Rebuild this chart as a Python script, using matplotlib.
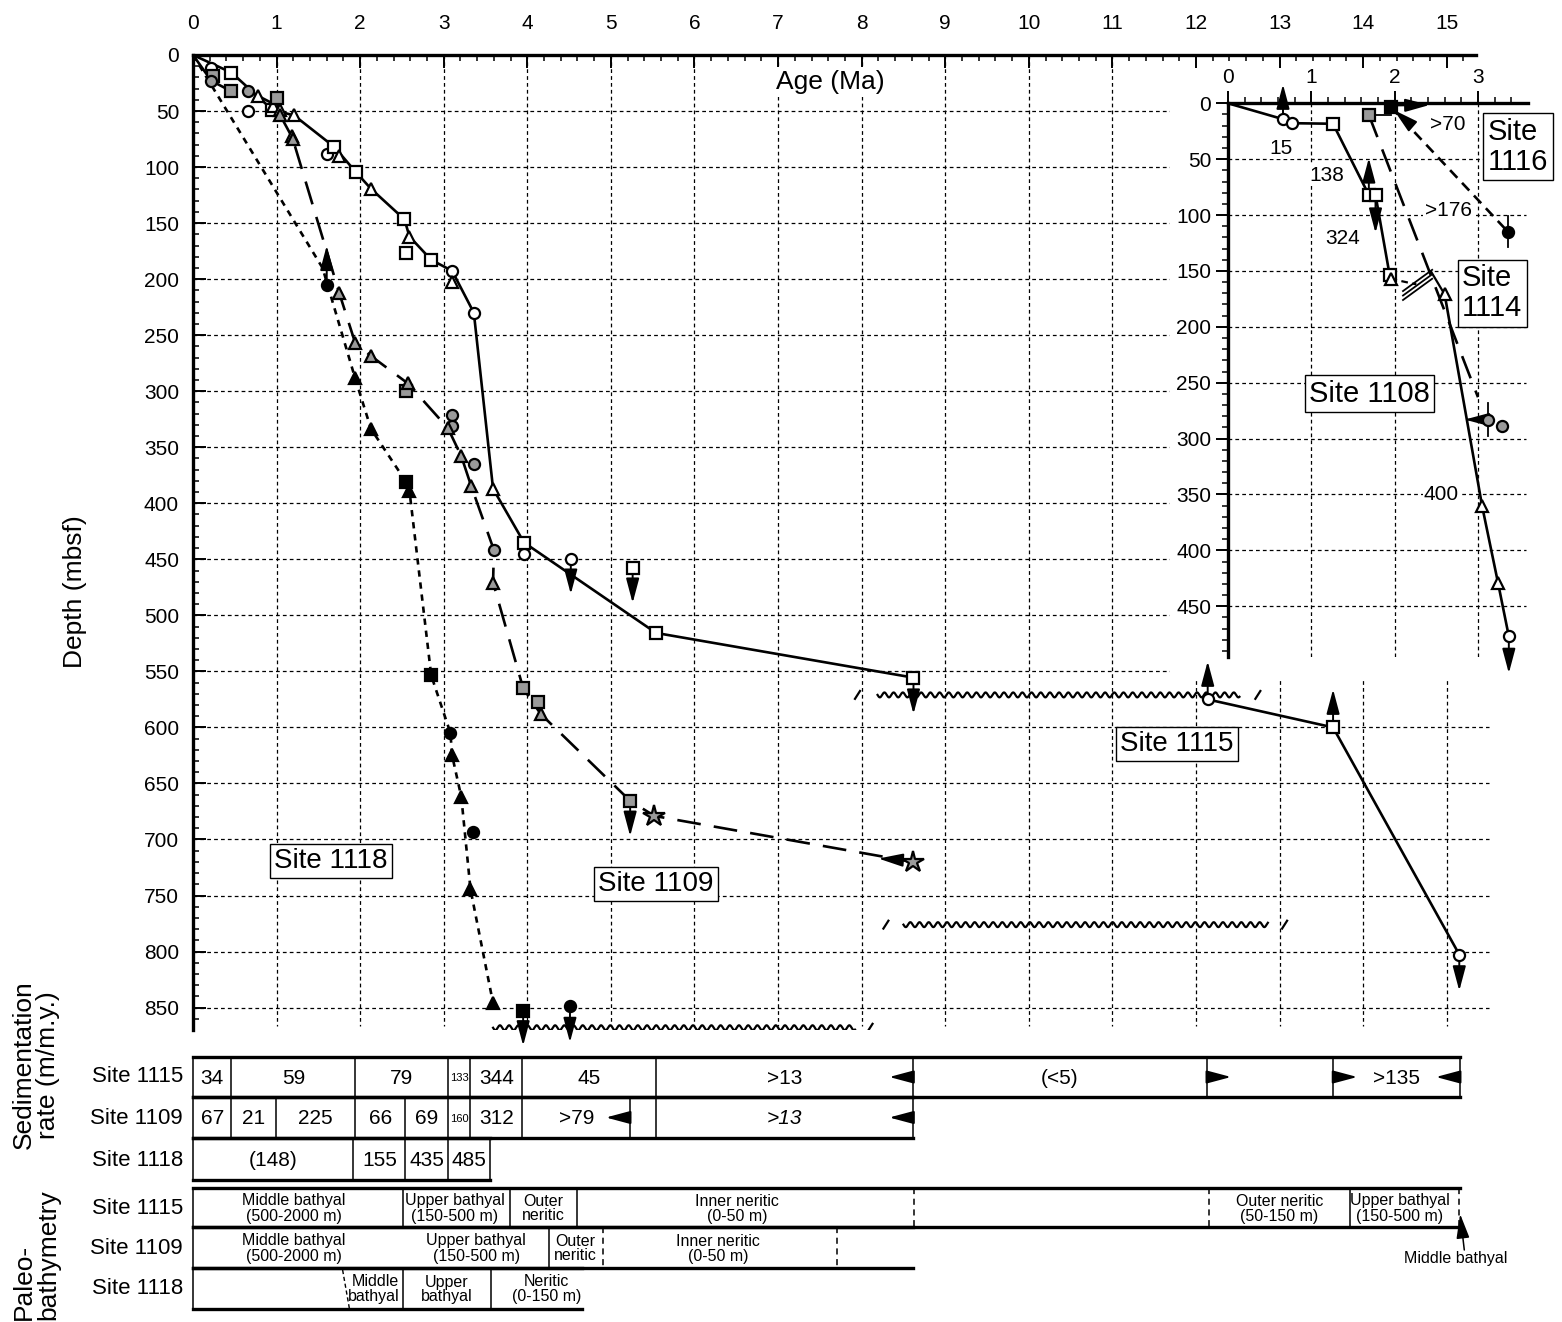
import numpy as np
import matplotlib.pyplot as plt

plt.rcParams['font.family'] = ['Liberation Sans', 'DejaVu Sans']

# ---------------- main panel: age (Ma) vs depth (mbsf) ----------------
# Site 1115 (open symbols, solid line)
s1115_age = [0, 0.46, 0.95, 1.21, 1.69, 1.95, 2.13, 2.53, 2.59, 2.85, 3.10, 3.36, 3.59, 3.96, 5.54, 8.62]
s1115_depth = [0, 15.7, 48.9, 53.9, 82, 104.6, 119.4, 146.7, 162, 182.8, 192.6, 230, 387, 435, 515.7, 555.6]
s1115_deep_age = [12.14, 13.64, 15.15]
s1115_deep_depth = [575, 600, 802.7]
open_circle_age = [0.22, 0.66, 1.60, 3.10, 3.36, 3.96, 4.52, 12.14, 15.15]
open_circle_depth = [11.9, 50.4, 88.3, 192.6, 230, 445.6, 449.7, 575, 802.7]
open_square_age = [0.46, 0.95, 1.69, 1.95, 2.53, 2.55, 2.85, 3.96, 5.26, 5.54, 8.62, 13.64]
open_square_depth = [15.7, 48.9, 82, 104.6, 146.7, 176.3, 182.8, 435, 458, 515.7, 555.6, 600]
open_tri_age = [0.78, 0.96, 1.04, 1.21, 1.75, 2.13, 2.59, 3.10, 3.59]
open_tri_depth = [37, 45.3, 48.9, 53.9, 89.8, 119.4, 162, 202.4, 387]

# Site 1109 (grey symbols, long dashes)
s1109_age = [0, 0.22, 0.45, 0.66, 1.0, 1.04, 1.19, 1.75, 1.94, 2.13, 2.57, 3.05, 3.21, 3.33,
             3.60, 3.59, 3.95, 4.16, 5.23, 5.52, 8.61]
s1109_depth = [0, 23.1, 32, 32, 45, 53.3, 74, 212.4, 256.8, 268.6, 293, 333, 358, 385,
               441.7, 470.7, 565, 588, 665.5, 679, 720]
grey_square_age = [0.24, 0.45, 1.0, 2.55, 3.95, 4.13, 5.23]
grey_square_depth = [18.7, 32, 38.5, 300, 565, 577, 665.5]
grey_circle_age = [0.22, 0.66, 3.10, 3.10, 3.36, 3.60]
grey_circle_depth = [23.1, 32, 321, 331, 365, 441.7]
grey_tri_age = [1.04, 1.18, 1.20, 1.75, 1.94, 2.13, 2.57, 3.05, 3.21, 3.33, 3.59, 4.16]
grey_tri_depth = [53.3, 72, 75, 212.4, 256.8, 268.6, 293, 333, 358, 385, 470.7, 588]
grey_star_age = [5.52, 8.61]
grey_star_depth = [679, 720]

# Site 1118 (black symbols, dotted line)
s1118_age = [0, 1.55, 1.94, 2.13, 2.55, 2.59, 2.85, 3.08, 3.10, 3.21, 3.32, 3.59]
s1118_depth = [0, 190, 288.5, 333.7, 381, 389, 553.6, 605, 625, 662, 744.5, 846]
black_tri_age = [1.94, 2.13, 2.59, 3.10, 3.21, 3.32, 3.59]
black_tri_depth = [288.5, 333.7, 389, 625, 662, 744.5, 846]
black_square_age = [2.55, 2.85, 3.95]
black_square_depth = [381, 553.6, 853]
black_circle_age = [1.60, 3.08, 3.35, 4.51]
black_circle_depth = [205, 605, 693.5, 849]

# limit arrows (from datum to arrow tip)
main_arrows = [(1.60, 205, 1.60, 170), (4.52, 449.7, 4.52, 481), (5.26, 458, 5.26, 489),
               (8.62, 555.6, 8.62, 588), (12.14, 575, 12.14, 541), (13.64, 600, 13.64, 566),
               (15.15, 802.7, 15.15, 835), (5.23, 665.5, 5.23, 697), (8.61, 719, 8.20, 717),
               (3.95, 853, 3.95, 884), (4.51, 849, 4.51, 881)]

# unconformities: (start age, end age, depth)
hiatus = [(8.19, 12.52, 571), (8.50, 12.86, 776), (3.59, 7.92, 868)]
hiatus_breaks = [(7.95, 571), (12.74, 571), (8.29, 776), (13.06, 776), (8.10, 868)]

site_labels = [('Site 1118', 1.65, 719), ('Site 1109', 5.54, 740), ('Site 1115', 11.77, 615)]

# ---------------- inset: Sites 1108, 1114, 1116 ----------------
s1108_age = [0, 0.66, 0.77, 1.26, 1.69, 1.77, 1.94]
s1108_depth = [0, 14.2, 17.8, 18.3, 82, 82, 153.8]
s1108_low_age = [2.60, 3.05, 3.24, 3.37]
s1108_low_depth = [171, 360.6, 429, 477]
s1114_age = [1.69, 3.0]
s1114_depth = [10.4, 263]
s1116_age = [1.95, 3.36]
s1116_depth = [3, 115]
in_open_circle_age = [0.66, 0.77, 3.37]
in_open_circle_depth = [14.2, 17.8, 477]
in_open_square_age = [1.26, 1.69, 1.77, 1.94]
in_open_square_depth = [18.3, 82, 82, 153.8]
in_open_tri_age = [1.95, 2.60, 3.05, 3.24]
in_open_tri_depth = [157, 171, 360.6, 429]
in_grey_circle_age = [3.12, 3.29]
in_grey_circle_depth = [283, 289]
in_grey_square = (1.69, 10.4)
in_black_square = (1.95, 3)
in_black_circle = (3.36, 115)
inset_arrows = [(0.66, 14.2, 0.66, -17), (1.69, 82, 1.69, 49), (1.77, 82, 1.77, 116),
                (1.95, 2, 2.42, 1.5), (3.12, 283, 2.84, 283), (3.37, 477, 3.37, 510),
                (2.16, 17, 1.99, 6)]
inset_rates = [('15', 0.64, 40), ('138', 1.18, 65), ('>70', 2.64, 19),
               ('>176', 2.64, 96), ('324', 1.38, 121), ('400', 2.56, 350)]
inset_sites = [('Site\n1116', 3.48, 39), ('Site\n1114', 3.17, 170), ('Site 1108', 1.70, 260)]

# ---------------- sedimentation rates (m/m.y.) ----------------
rate_1115_edges = [0, 0.46, 1.94, 3.05, 3.32, 3.94, 5.54, 8.61, 12.13, 13.64, 15.16]
rate_1115_text = ['34', '59', '79', '133', '344', '45', '>13', '(<5)', '', '>135']
rate_1109_edges = [0, 0.46, 0.99, 1.94, 2.54, 3.05, 3.32, 3.94, 5.23, 5.54, 8.61]
rate_1109_text = ['67', '21', '225', '66', '69', '160', '312', '>79', '', '>13']
rate_1118_edges = [0, 1.92, 2.54, 3.05, 3.55]
rate_1118_text = ['(148)', '155', '435', '485']
rate_arrows = [(8.61, 8.33, 0), (12.13, 12.42, 0), (13.64, 13.93, 0), (15.16, 14.87, 0),
               (5.23, 4.94, 1), (8.61, 8.33, 1)]

# ---------------- paleobathymetry ----------------
bathy_1115_solid = [0, 2.51, 3.79, 4.60, 13.84]
bathy_1115_dashed = [8.63, 12.16, 15.15]
bathy_1115_end = 15.16
bathy_1115_text = [(1.21, 'Middle bathyal\n(500-2000 m)'), (3.13, 'Upper bathyal\n(150-500 m)'),
                   (4.19, 'Outer\nneritic'), (6.51, 'Inner neritic\n(0-50 m)'),
                   (13.0, 'Outer neritic\n(50-150 m)'), (14.44, 'Upper bathyal\n(150-500 m)')]
bathy_1109_solid = [0, 4.26]
bathy_1109_dashed = [4.90, 7.71]
bathy_1109_end = 8.61
bathy_1109_text = [(1.21, 'Middle bathyal\n(500-2000 m)'), (3.39, 'Upper bathyal\n(150-500 m)'),
                   (4.57, 'Outer\nneritic'), (6.28, 'Inner neritic\n(0-50 m)')]
bathy_1118_solid = [0, 2.51, 3.57]
bathy_1118_dashed = []
bathy_1118_end = 4.65
bathy_1118_text = [(3.03, 'Upper\nbathyal'), (4.23, 'Neritic\n(0-150 m)')]

W, H = 1562, 1322
fig = plt.figure(figsize=(W / 100, H / 100), dpi=100)


def fig_box(x0, y0, x1, y1):
    return [x0 / W, 1 - y1 / H, (x1 - x0) / W, (y1 - y0) / H]


OPEN = dict(mfc='white', mec='black', mew=1.6, ls='none', zorder=5, clip_on=False)
GREY = dict(mfc='#9a9a9a', mec='black', mew=1.6, ls='none', zorder=5, clip_on=False)
BLACK = dict(mfc='black', mec='black', mew=1.6, ls='none', zorder=5, clip_on=False)
GRID = dict(color='black', lw=0.9, ls=(0, (3, 2.5)), zorder=0.6)
LONG = (0, (9, 5))
DOTTED = (0, (2.4, 2.2))


def arrow(axis, x0, y0, x1, y1, lw=1.4):
    axis.annotate('', xy=(x1, y1), xytext=(x0, y0), annotation_clip=False,
                  arrowprops=dict(arrowstyle='-|>,head_length=0.75,head_width=0.2',
                                  color='black', lw=lw, mutation_scale=20,
                                  shrinkA=0, shrinkB=0), zorder=3)


def squiggle(axis, a0, a1, depth, period=0.11, amp=2.2):
    x = np.linspace(a0, a1, int((a1 - a0) / period * 16))
    axis.plot(x, depth + amp * np.sin(2 * np.pi * (x - a0) / period),
              color='black', lw=1.6, zorder=3)


def style_axis(axis, xmaj, xmin, ymaj, ymin, direction, xpad, ypad):
    axis.xaxis.tick_top()
    axis.set_xticks(xmaj)
    axis.set_xticks(xmin, minor=True)
    axis.set_yticks(ymaj)
    axis.set_yticks(ymin, minor=True)
    axis.tick_params(which='both', direction=direction, top=True, bottom=False,
                     left=True, right=False, labeltop=True, labelbottom=False,
                     labelsize=15, width=1.4)
    axis.tick_params(which='major', length=9)
    axis.tick_params(which='minor', length=4.5, width=1.1)
    axis.tick_params(axis='x', pad=xpad)
    axis.tick_params(axis='y', pad=ypad)
    for side in ('right', 'bottom'):
        axis.spines[side].set_visible(False)
    for side in ('top', 'left'):
        axis.spines[side].set_linewidth(2.4)
    axis.set_axisbelow(False)
    axis.patch.set_alpha(0)


# ---- main panel ----
ax = fig.add_axes(fig_box(193, 55, 1476, 1030))
ax.set_xlim(0, 15.35)
ax.set_ylim(870, 0)
style_axis(ax, range(16), np.arange(0, 15.3, 0.2), range(0, 851, 50), range(0, 870, 10),
           'in', 16, 10)
for a in range(1, 16):
    ax.plot([a, a], [0, 866], **GRID)
for d in range(50, 851, 50):
    ax.plot([0, 15.5], [d, d], clip_on=False, **GRID)
# blank area behind the inset panel
ax.add_patch(plt.Rectangle((11.69, 1.5), 4.6, 555, fc='white', ec='none', zorder=1, clip_on=False))

ax.plot(s1115_age, s1115_depth, color='black', lw=1.9, zorder=3)
ax.plot(s1115_deep_age, s1115_deep_depth, color='black', lw=1.9, zorder=3)
ax.plot(s1109_age, s1109_depth, color='black', lw=1.9, ls=LONG, zorder=3)
ax.plot(s1118_age, s1118_depth, color='black', lw=1.9, ls=DOTTED, zorder=3)

ax.plot(open_circle_age, open_circle_depth, marker='o', ms=8, **OPEN)
ax.plot(open_square_age, open_square_depth, marker='s', ms=8, **OPEN)
ax.plot(open_tri_age, open_tri_depth, marker='^', ms=8.5, **OPEN)
ax.plot(grey_square_age, grey_square_depth, marker='s', ms=8, **GREY)
ax.plot(grey_circle_age, grey_circle_depth, marker='o', ms=8, **GREY)
ax.plot(grey_tri_age, grey_tri_depth, marker='^', ms=8.5, **GREY)
ax.plot(grey_star_age, grey_star_depth, marker='*', ms=16, **GREY)
ax.plot(black_tri_age, black_tri_depth, marker='^', ms=8.5, **BLACK)
ax.plot(black_square_age, black_square_depth, marker='s', ms=8, **BLACK)
ax.plot(black_circle_age, black_circle_depth, marker='o', ms=8, **BLACK)

for x0, y0, x1, y1 in main_arrows:
    arrow(ax, x0, y0, x1, y1)

for a0, a1, d in hiatus:
    squiggle(ax, a0, a1, d)
for a, d in hiatus_breaks:
    ax.plot([a - 0.03, a + 0.03], [d + 3.5, d - 3.5], color='black', lw=1.6, zorder=3)

for txt, a, d in site_labels:
    ax.text(a, d, txt, ha='center', va='center', fontsize=20, zorder=6,
            bbox=dict(boxstyle='square,pad=0.15', fc='white', ec='black', lw=1))

ax.text(7.62, 24, 'Age (Ma)', ha='center', va='center', fontsize=19, zorder=6,
        bbox=dict(boxstyle='square,pad=0.1', fc='white', ec='none'))
fig.text(75 / W, 1 - 592 / H, 'Depth (mbsf)', rotation=90, ha='center', va='center', fontsize=19)

# ---- inset panel ----
ins = fig.add_axes(fig_box(1228, 103.3, 1528, 656.5))
ins.set_xlim(0, 3.6)
ins.set_ylim(495, 0)
style_axis(ins, range(4), np.arange(0, 3.6, 0.2), range(0, 451, 50), range(0, 495, 10),
           'out', 3, 3)
for a in range(1, 4):
    ins.plot([a, a], [0, 495], **GRID)
for d in range(50, 451, 50):
    ins.plot([0, 3.58], [d, d], **GRID)

ins.plot(s1108_age, s1108_depth, color='black', lw=1.9, zorder=3)
ins.plot(s1108_low_age, s1108_low_depth, color='black', lw=1.9, zorder=3)
ins.plot([1.95, 2.26], [157, 162], color='black', lw=1.6, ls=(0, (3, 2)), zorder=3)
ins.plot([2.44, 2.60], [151, 171], color='black', lw=1.6, zorder=3)
for off in (-4, 0, 4):
    ins.plot([2.10, 2.45], [172 + off, 153 + off], color='black', lw=1.3, zorder=3)
ins.plot(s1114_age, s1114_depth, color='black', lw=1.9, ls=LONG, zorder=3)
ins.plot(s1116_age, s1116_depth, color='black', lw=1.9, ls=(0, (4, 2.6)), zorder=3)
ins.plot([in_grey_square[0], in_black_square[0]], [in_grey_square[1]] * 2, color='black', lw=1.3, zorder=3)
ins.plot([in_black_circle[0]] * 2, [in_black_circle[1] - 14, in_black_circle[1] + 14], color='black', lw=1.3, zorder=3)
ins.plot([3.12, 3.12], [268, 298], color='black', lw=1.3, zorder=3)

ins.plot(in_open_circle_age, in_open_circle_depth, marker='o', ms=8, **OPEN)
ins.plot(in_open_square_age, in_open_square_depth, marker='s', ms=8, **OPEN)
ins.plot(in_open_tri_age, in_open_tri_depth, marker='^', ms=8.5, **OPEN)
ins.plot(in_grey_circle_age, in_grey_circle_depth, marker='o', ms=8, **GREY)
ins.plot(*in_grey_square, marker='s', ms=8, **GREY)
ins.plot(*in_black_square, marker='s', ms=8, **BLACK)
ins.plot(*in_black_circle, marker='o', ms=8, **BLACK)

for x0, y0, x1, y1 in inset_arrows:
    arrow(ins, x0, y0, x1, y1)

for txt, a, d in inset_rates:
    ins.text(a, d, txt, ha='center', va='center', fontsize=15, zorder=4,
             bbox=dict(boxstyle='square,pad=0.05', fc='white', ec='none'))
for txt, a, d in inset_sites:
    ins.text(a, d, txt, ha='center', va='center', fontsize=21, zorder=6,
             linespacing=1.1, multialignment='left',
             bbox=dict(boxstyle='square,pad=0.15', fc='white', ec='black', lw=1))

# ---- rate and bathymetry tables, sharing the age scale ----
tab = fig.add_axes(fig_box(193, 1040, 1476, 1322))
tab.set_xlim(0, 15.35)
tab.set_ylim(1322, 1040)
tab.axis('off')

rate_rows = [(1057, 1097, rate_1115_edges, rate_1115_text),
             (1097, 1138, rate_1109_edges, rate_1109_text),
             (1138, 1180, rate_1118_edges, rate_1118_text)]
for i, (y0, y1, edges, texts) in enumerate(rate_rows):
    tab.plot([0, edges[-1]], [y0, y0], color='black', lw=2.4, clip_on=False)
    tab.plot([0, edges[-1]], [y1, y1], color='black', lw=2.4, clip_on=False)
    for e in edges:
        tab.plot([e, e], [y0, y1], color='black', lw=1.1, clip_on=False)
    for j, t in enumerate(texts):
        small = t in ('133', '160')
        tab.text((edges[j] + edges[j + 1]) / 2, (y0 + y1) / 2 + 1, t, ha='center', va='center',
                 fontsize=8 if small else 15,
                 style='italic' if (i == 1 and t == '>13') else 'normal')
for x0, x1, row in rate_arrows:
    y0, y1 = rate_rows[row][:2]
    arrow(tab, x0, (y0 + y1) / 2, x1, (y0 + y1) / 2)

bathy_rows = [(1188, 1227, bathy_1115_solid, bathy_1115_dashed, bathy_1115_end, bathy_1115_text),
              (1227, 1268, bathy_1109_solid, bathy_1109_dashed, bathy_1109_end, bathy_1109_text),
              (1268, 1309, bathy_1118_solid, bathy_1118_dashed, bathy_1118_end, bathy_1118_text)]
for y0, y1, solid, dashed, end, texts in bathy_rows:
    tab.plot([0, end], [y0, y0], color='black', lw=2.4, clip_on=False)
    tab.plot([0, end], [y1, y1], color='black', lw=2.4, clip_on=False)
    for e in solid:
        tab.plot([e, e], [y0, y1], color='black', lw=1.1, clip_on=False)
    for e in dashed:
        tab.plot([e, e], [y0, y1], color='black', lw=1.1, ls=(0, (4, 3)), clip_on=False)
    for a, t in texts:
        tab.text(a, (y0 + y1) / 2 + 1, t, ha='center', va='center', fontsize=11.5, linespacing=1.0)
tab.text(2.47, 1289, 'Middle\nbathyal', ha='right', va='center', fontsize=11.5,
         linespacing=1.0, multialignment='right')
tab.plot([1.79, 1.87], [1270, 1308], color='black', lw=1, ls=(0, (3, 2)))
tab.text(15.11, 1259, 'Middle bathyal', ha='center', va='center', fontsize=11.5)
arrow(tab, 15.21, 1250, 15.16, 1214, lw=1.1)

site_rows = [('Site 1115', 1077), ('Site 1109', 1118), ('Site 1118', 1160),
             ('Site 1115', 1208), ('Site 1109', 1248), ('Site 1118', 1289)]
for txt, y in site_rows:
    tab.text(-0.12, y, txt, ha='right', va='center', fontsize=16)

fig.text(36 / W, 1 - 1065 / H, 'Sedimentation\nrate (m/m.y.)', rotation=90, ha='center',
         va='center', fontsize=19, linespacing=1.05)
fig.text(36 / W, 1 - 1320 / H, 'Paleo-\nbathymetry', rotation=90, ha='center', va='bottom',
         fontsize=19, linespacing=1.05, multialignment='left')

fig.savefig('out.png', dpi=100)
